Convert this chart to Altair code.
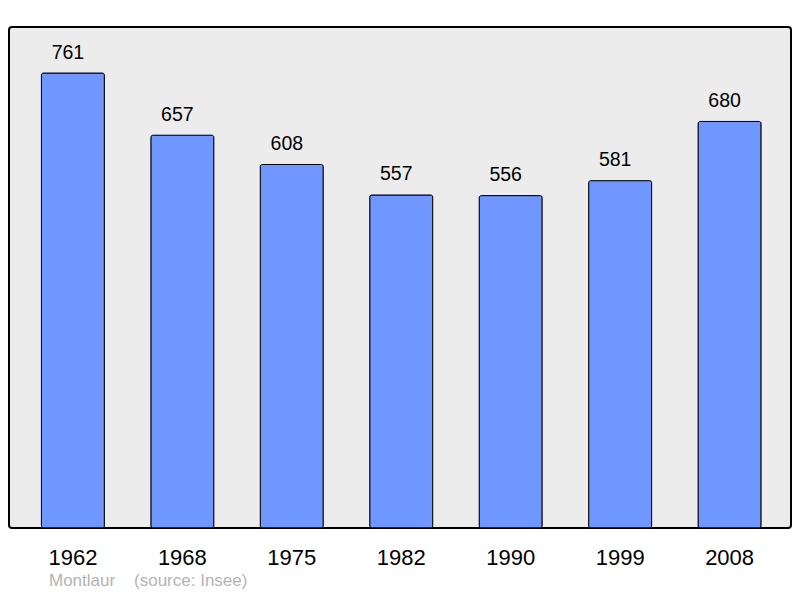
import altair as alt
import pandas as pd

years = ["1962", "1968", "1975", "1982", "1990", "1999", "2008"]
population = [761, 657, 608, 557, 556, 581, 680]
source_text = "Montlaur\u00a0\u00a0\u00a0\u00a0(source: Insee)"

df = pd.DataFrame({"year": years, "population": population})

FONT = "Liberation Sans"

base = alt.Chart(df).encode(
    x=alt.X(
        "year:N",
        sort=None,
        scale=alt.Scale(paddingInner=0.4244, paddingOuter=0.2846, align=0.52),
        axis=alt.Axis(
            title=None,
            labelAngle=0,
            ticks=False,
            tickSize=0,
            domain=False,
            grid=False,
            labelFontSize=22,
            labelFont=FONT,
            labelColor="black",
            labelBaseline="alphabetic",
            labelPadding=36,
        ),
    ),
    y=alt.Y(
        "population:Q",
        scale=alt.Scale(domain=[0, 838], nice=False),
        axis=None,
    ),
)

bars = base.mark_bar(
    color="#7096ff", stroke="black", strokeWidth=1, cornerRadius=2
)

labels = base.mark_text(
    dx=-5, dy=-14.5, baseline="alphabetic", fontSize=19.5, font=FONT, color="black"
).encode(text="population:Q")

chart = (
    (bars + labels)
    .properties(
        width=782,
        height=501,
        autosize="none",
        padding={"left": 1, "top": 19, "right": 1, "bottom": 62},
        background="white",
        title=alt.TitleParams(
            source_text,
            orient="bottom",
            anchor="start",
            baseline="alphabetic",
            dx=40,
            dy=18,
            fontSize=17,
            font=FONT,
            fontWeight="normal",
            color="#b3b3b3",
            offset=0,
        ),
    )
    .configure_view(
        fill="#ececec", stroke="black", strokeWidth=2, cornerRadius=3
    )
)

chart.save("out.html", embed_options={"renderer": "svg", "actions": False})
